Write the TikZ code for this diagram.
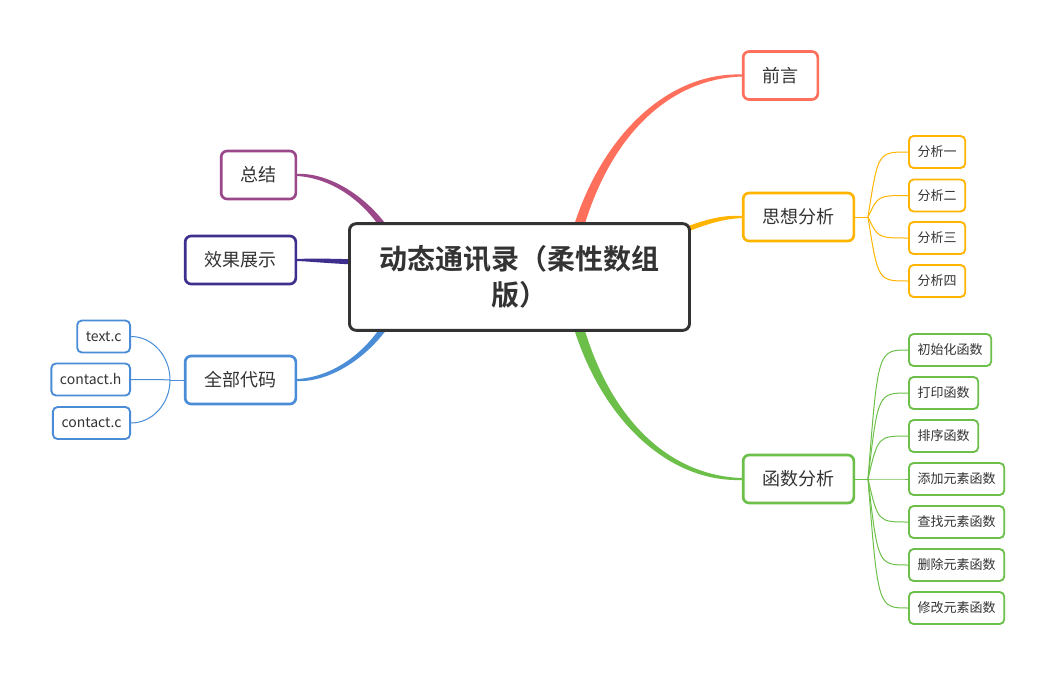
\documentclass[tikz,border=0pt]{standalone}
\usepackage{fontspec}
\setmainfont{Noto Sans CJK SC}[BoldFont={Noto Sans CJK SC Bold}]
\usetikzlibrary{backgrounds,calc}
\definecolor{ink}{HTML}{333333}
\definecolor{coral}{RGB}{255,112,92}
\definecolor{amber}{RGB}{255,180,0}
\definecolor{leafgreen}{RGB}{108,192,74}
\definecolor{plum}{RGB}{155,72,138}
\definecolor{indigo}{RGB}{62,46,142}
\definecolor{azure}{RGB}{74,140,214}
% tapered main branch: colour, start, control 1, control 2, end, shift axis, half width, side (1 or -1)
\newcommand{\mmbranch}[8]{\fill[#1] ([#6shift=-#7]#2) .. controls ([#6shift=-#7]#3) and ([yshift=#8*0.7*#7]#4) .. ([yshift=#8*0.75pt]#5) -- ([yshift=-#8*0.75pt]#5) .. controls ([yshift=-#8*0.7*#7]#4) and ([#6shift=#7]#3) .. ([#6shift=#7]#2) -- cycle;}

\begin{document}
\begin{tikzpicture}[x=0.75pt,y=-0.75pt,
    topic/.style={draw,line width=2pt,rounded corners=4.5pt,fill=white,minimum height=36pt,
      inner xsep=14.5pt,text=ink,font=\fontsize{13.5pt}{16pt}\selectfont},
    leaf/.style={draw,line width=1.4pt,rounded corners=3.5pt,fill=white,minimum height=24pt,
      inner xsep=6.5pt,text=ink,font=\fontsize{9.75pt}{12pt}\selectfont},
    twig/.style={line width=0.75pt}]
  \useasboundingbox (0,0) rectangle (1057,675);

  % centre
  \node[draw=ink,line width=2.2pt,rounded corners=5pt,fill=white,minimum width=255pt,minimum height=80pt,
    align=center,text=ink,font=\bfseries\fontsize{21pt}{27pt}\selectfont] (root) at (519.5,277)
    {动态通讯录（柔性数组\\版）};

  % main topics
  \node[topic,draw=coral] (pre) at (780.5,75.5) {前言};
  \node[topic,draw=amber] (idea) at (798.5,217) {思想分析};
  \node[topic,draw=leafgreen] (func) at (798.5,479) {函数分析};
  \node[topic,draw=plum] (summ) at (258.5,175) {总结};
  \node[topic,draw=indigo] (demo) at (240.5,260) {效果展示};
  \node[topic,draw=azure] (code) at (240.5,380) {全部代码};

  % sub topics
  \foreach \t/\y [count=\i] in {分析一/152,分析二/195.5,分析三/238,分析四/281}
    \node[leaf,draw=amber,anchor=west] (a\i) at (908,\y) {\t};
  \foreach \t/\y [count=\i] in {初始化函数/350,打印函数/393,排序函数/436,添加元素函数/479,
      查找元素函数/522,删除元素函数/565,修改元素函数/608}
    \node[leaf,draw=leafgreen,anchor=west] (f\i) at (908,\y) {\t};
  \foreach \t/\y [count=\i] in {text.c/336.5,contact.h/379.5,contact.c/423}
    \node[leaf,draw=azure,anchor=east,font=\fontsize{10.5pt}{12pt}\selectfont] (c\i) at (131,\y) {\t};

  \coordinate (ja) at (868,217);
  \coordinate (jf) at (868,479);
  \coordinate (jc) at (170,380);

  \begin{scope}[on background layer]
    \mmbranch{coral}{570,262}{592,150}{660,75.5}{pre.west}{x}{4pt}{1}
    \mmbranch{leafgreen}{570,292}{592,405}{660,479}{func.west}{x}{4pt}{-1}
    \mmbranch{amber}{640,250}{700,221}{722,217}{idea.west}{y}{2.2pt}{-1}
    \mmbranch{plum}{400,255}{375,200}{330,175}{summ.east}{x}{3.2pt}{-1}
    \mmbranch{azure}{400,300}{375,355}{330,380}{code.east}{x}{3pt}{1}
    \mmbranch{indigo}{420,264}{340,262}{320,260}{demo.east}{y}{2.2pt}{-1}

    \draw[twig,amber] (idea.east) -- (ja);
    \foreach \i in {1,...,4}
      \draw[twig,amber] (ja) .. controls ([xshift=7.5pt]ja |- a\i.west) .. (a\i.west);
    \draw[twig,leafgreen] (func.east) -- (jf);
    \foreach \i in {1,...,7}
      \draw[twig,leafgreen] (jf) .. controls ([xshift=7.5pt]jf |- f\i.west) .. (f\i.west);
    \draw[twig,azure] (code.west) -- (jc);
    \foreach \i in {1,...,3}
      \draw[twig,azure] (jc) .. controls ($(jc)!0.55!(jc |- c\i.east)$) and ($(c\i.east)!0.55!(jc |- c\i.east)$) .. (c\i.east);
  \end{scope}
\end{tikzpicture}
\end{document}
